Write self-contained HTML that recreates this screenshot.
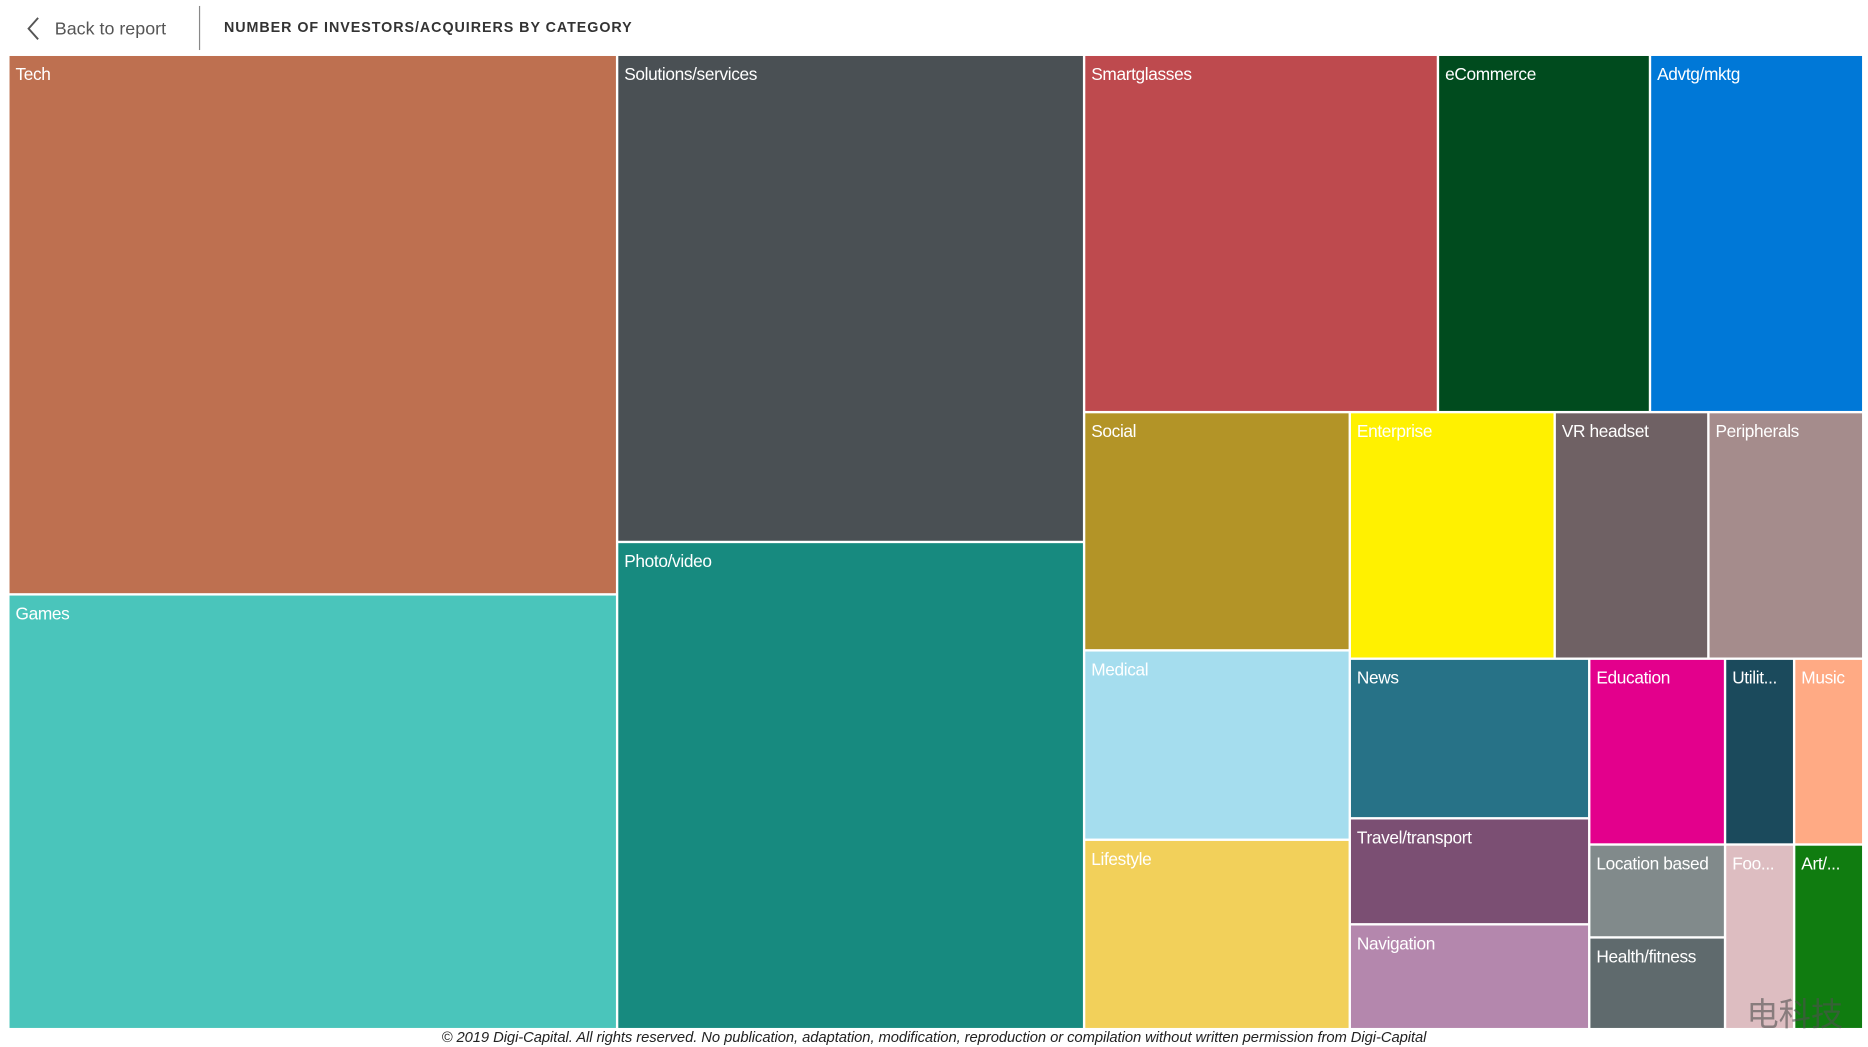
<!DOCTYPE html>
<html><head><meta charset="utf-8"><style>
html,body{margin:0;padding:0;background:#fff;overflow:hidden}
#w{position:absolute;left:0;top:0;width:1568px;height:879px;transform:scale(1.19133,1.19113);transform-origin:0 0;font-family:"Liberation Sans",sans-serif}
.b{position:absolute;box-sizing:border-box;color:#fff;font-size:14.5px;padding:8px 0 0 5px;white-space:nowrap;overflow:hidden;letter-spacing:-0.3px}
</style></head><body><div id="w">
<svg style="position:absolute;left:20px;top:13px" width="14" height="22"><path d="M12 2 L4 11 L12 20" stroke="#555" stroke-width="1.6" fill="none"/></svg>
<div style="position:absolute;left:46px;top:16px;font-size:15px;color:#555">Back to report</div>
<div style="position:absolute;left:167px;top:5px;width:1px;height:37px;background:#888"></div>
<div style="position:absolute;left:188px;top:16px;font-size:12px;font-weight:bold;color:#333;letter-spacing:0.8px">NUMBER OF INVESTORS/ACQUIRERS BY CATEGORY</div>

<div class="b" style="left:8px;top:47px;width:509px;height:451px;background:#BE7050">Tech</div>
<div class="b" style="left:8px;top:500px;width:509px;height:363px;background:#4AC5BB">Games</div>
<div class="b" style="left:519px;top:47px;width:390px;height:407px;background:#4A5054">Solutions/services</div>
<div class="b" style="left:519px;top:456px;width:390px;height:407px;background:#178A7F">Photo/video</div>
<div class="b" style="left:911px;top:47px;width:295px;height:298px;background:#BE4A4E">Smartglasses</div>
<div class="b" style="left:1208px;top:47px;width:176px;height:298px;background:#004B1E">eCommerce</div>
<div class="b" style="left:1386px;top:47px;width:177px;height:298px;background:#0078D7">Advtg/mktg</div>
<div class="b" style="left:911px;top:347px;width:221px;height:198px;background:#B39427">Social</div>
<div class="b" style="left:911px;top:547px;width:221px;height:157px;background:#A5DDEE">Medical</div>
<div class="b" style="left:911px;top:706px;width:221px;height:157px;background:#F2D05A">Lifestyle</div>
<div class="b" style="left:1134px;top:347px;width:170px;height:205px;background:#FFF100">Enterprise</div>
<div class="b" style="left:1306px;top:347px;width:127px;height:205px;background:#6F6164">VR headset</div>
<div class="b" style="left:1435px;top:347px;width:128px;height:205px;background:#A58C8C">Peripherals</div>
<div class="b" style="left:1134px;top:554px;width:199px;height:132px;background:#277287">News</div>
<div class="b" style="left:1134px;top:688px;width:199px;height:87px;background:#7B4F73">Travel/transport</div>
<div class="b" style="left:1134px;top:777px;width:199px;height:86px;background:#B487AD">Navigation</div>
<div class="b" style="left:1335px;top:554px;width:112px;height:154px;background:#E3008C">Education</div>
<div class="b" style="left:1449px;top:554px;width:56px;height:154px;background:#1B4A5C">Utilit...</div>
<div class="b" style="left:1507px;top:554px;width:56px;height:154px;background:#FFAA84">Music</div>
<div class="b" style="left:1335px;top:710px;width:112px;height:76px;background:#818A8B">Location based</div>
<div class="b" style="left:1335px;top:788px;width:112px;height:75px;background:#5F6A6D">Health/fitness</div>
<div class="b" style="left:1449px;top:710px;width:56px;height:153px;background:#DDBDC1">Foo...</div>
<div class="b" style="left:1507px;top:710px;width:56px;height:153px;background:#107C10">Art/...</div>

<div style="position:absolute;left:1466px;top:830px;font-family:'Noto Sans CJK SC',sans-serif;font-size:27px;color:rgba(80,80,80,0.6)">电科技</div>
<div style="position:absolute;left:0;width:1568px;top:864px;text-align:center;font-size:12.4px;font-style:italic;color:#222;letter-spacing:-0.05px">© 2019 Digi-Capital. All rights reserved. No publication, adaptation, modification, reproduction or compilation without written permission from Digi-Capital</div>
</div></body></html>
